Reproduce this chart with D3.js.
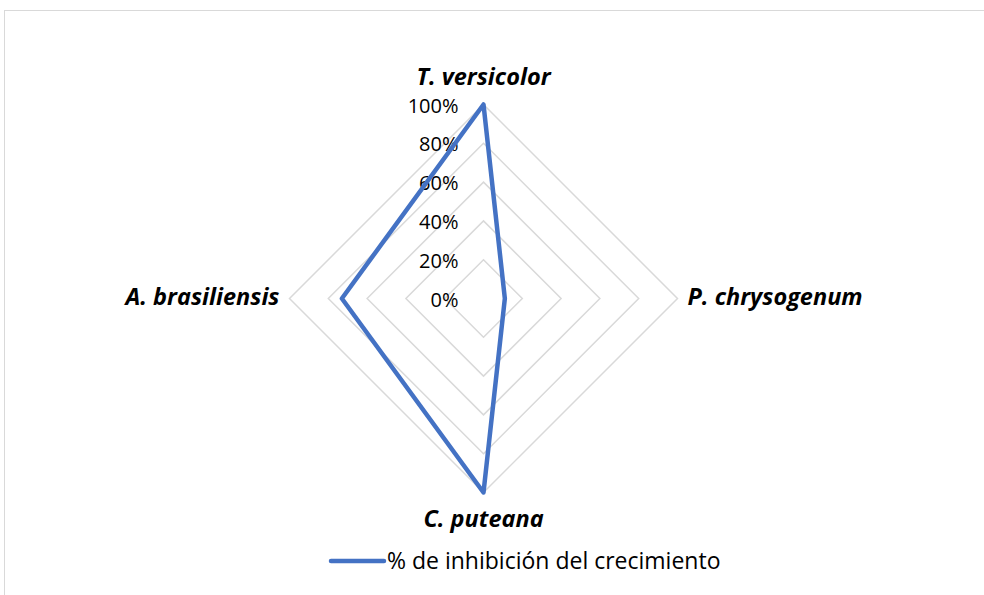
<!DOCTYPE html>
<html><head><meta charset="utf-8">
<script src="https://cdn.jsdelivr.net/npm/d3@7"></script>
<style>body{margin:0;background:#fff}svg{display:block}</style>
</head><body>
<svg id="c" width="984" height="595"></svg>
<script>
const categories = ["T. versicolor", "P. chrysogenum", "C. puteana", "A. brasiliensis"];
const values = [1.00, 0.11, 1.00, 0.73];
const tickValues = [0, 0.2, 0.4, 0.6, 0.8, 1.0];
const seriesName = "% de inhibición del crecimiento";

const svg = d3.select("#c");
const cx = 483.5, cy = 298.5, R = 194;
const font = "'Open Sans', 'Noto Sans', sans-serif";

svg.append("rect").attr("x", 4.5).attr("y", 10.5).attr("width", 1000).attr("height", 700)
  .attr("fill", "none").attr("stroke", "#d9d9d9").attr("stroke-width", 1);

const r = d3.scaleLinear().domain([0, 1]).range([0, R]);
const angle = i => i * Math.PI / 2; // 0 = up, clockwise
const pt = (i, v) => [cx + r(v) * Math.sin(angle(i)), cy - r(v) * Math.cos(angle(i))];

// grid rings
const ring = d3.line().curve(d3.curveLinearClosed);
svg.append("g").selectAll("path").data(tickValues.filter(t => t > 0)).join("path")
  .attr("d", t => ring(categories.map((c, i) => pt(i, t))))
  .attr("fill", "none").attr("stroke", "#d9d9d9").attr("stroke-width", 1.5);

// tick labels
const fmt = d3.format(".0%");
svg.append("g").selectAll("text").data(tickValues).join("text")
  .attr("x", cx - 25).attr("y", t => cy - r(t) + 8)
  .attr("text-anchor", "end")
  .attr("font-family", font).attr("font-size", 20).attr("fill", "#000")
  .text(fmt);

// series
svg.append("path")
  .attr("d", ring(values.map((v, i) => pt(i, v))))
  .attr("fill", "none").attr("stroke", "#4472C4").attr("stroke-width", 4.5)
  .attr("stroke-linejoin", "round");

// category labels
const labPos = [
  {x: cx, y: cy - R - 19.5, anchor: "middle"},
  {x: cx + R + 10, y: cy + 6.5, anchor: "start"},
  {x: cx, y: cy + R + 34.5, anchor: "middle"},
  {x: cx - R - 10, y: cy + 6.5, anchor: "end"}
];
svg.append("g").selectAll("text").data(categories).join("text")
  .attr("x", (d, i) => labPos[i].x).attr("y", (d, i) => labPos[i].y)
  .attr("text-anchor", (d, i) => labPos[i].anchor)
  .attr("font-family", font).attr("font-size", 23.5).attr("font-weight", "bold").attr("font-style", "italic")
  .attr("fill", "#000").text(d => d);

// legend
const lg = svg.append("g");
lg.append("line").attr("x1", 331).attr("x2", 384).attr("y1", 561).attr("y2", 561)
  .attr("stroke", "#4472C4").attr("stroke-width", 4.5).attr("stroke-linecap", "round");
lg.append("text").attr("x", 387).attr("y", 569)
  .attr("font-family", font).attr("font-size", 23).attr("fill", "#000").text(seriesName);
</script>
</body></html>
